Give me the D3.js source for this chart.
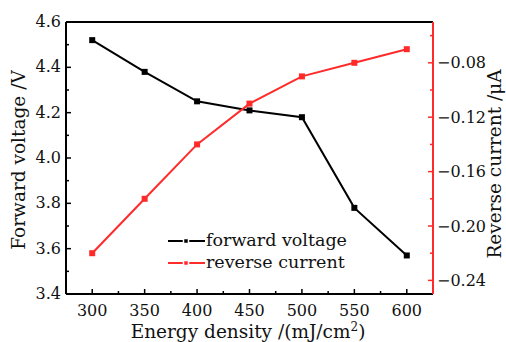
<!DOCTYPE html>
<html><head><meta charset="utf-8">
<script src="https://cdn.jsdelivr.net/npm/d3@7"></script>
<style>body{margin:0;background:#fff}svg{display:block}text{font-family:"DejaVu Serif",serif;fill:#111}</style>
</head><body><svg id="c" width="506" height="342"></svg>
<script>
const energy = [300, 350, 400, 450, 500, 550, 600];
const forwardVoltage = [4.52, 4.38, 4.25, 4.21, 4.18, 3.78, 3.57];
const reverseCurrent = [-0.22, -0.18, -0.14, -0.11, -0.09, -0.08, -0.07];
const xTicks = [300, 350, 400, 450, 500, 550, 600];
const leftTicks = [3.4, 3.6, 3.8, 4.0, 4.2, 4.4, 4.6];
const rightTicks = [-0.24, -0.20, -0.16, -0.12, -0.08];

const svg = d3.select("#c");
const L = 66, R = 433, T = 22, B = 294;
const red = "#ff2a2a";
const x = d3.scaleLinear().domain([275, 625]).range([L, R]);
const yL = d3.scaleLinear().domain([3.4, 4.6]).range([B, T]);
const yR = d3.scaleLinear().domain([-0.25, -0.05]).range([B, T]);
const fs = 16, tfs = 18.5;

// ticks
const g = svg.append("g");
d3.range(275, 626, 25).forEach(v => {
  const major = xTicks.includes(v);
  g.append("line").attr("x1", x(v)).attr("x2", x(v)).attr("y1", B).attr("y2", B - (major ? 5 : 3)).attr("stroke", "#000").attr("stroke-width", 1.5);
});
d3.range(34, 47, 1).map(v => v / 10).forEach(v => {
  const major = Math.round(v * 10) % 2 === 0;
  g.append("line").attr("x1", L).attr("x2", L + (major ? 5 : 3)).attr("y1", yL(v)).attr("y2", yL(v)).attr("stroke", "#000").attr("stroke-width", 1.5);
});
d3.range(-25, -4, 1).filter(v => v % 2 === 0).map(v => v / 100).forEach(v => {
  const major = Math.round(v * 100) % 4 === 0;
  g.append("line").attr("x1", R).attr("x2", R - (major ? 5 : 3)).attr("y1", yR(v)).attr("y2", yR(v)).attr("stroke", red).attr("stroke-width", 1.5);
});

// frame
svg.append("line").attr("x1", L).attr("x2", R).attr("y1", T).attr("y2", T).attr("stroke", "#000").attr("stroke-width", 2);
svg.append("line").attr("x1", L).attr("x2", R).attr("y1", B).attr("y2", B).attr("stroke", "#000").attr("stroke-width", 2);
svg.append("line").attr("x1", L).attr("x2", L).attr("y1", T).attr("y2", B).attr("stroke", "#000").attr("stroke-width", 2);
svg.append("line").attr("x1", R).attr("x2", R).attr("y1", T).attr("y2", B).attr("stroke", red).attr("stroke-width", 2);

// tick labels
xTicks.forEach(v => svg.append("text").attr("x", x(v)).attr("y", 316).attr("text-anchor", "middle").attr("font-size", fs).text(v));
leftTicks.forEach(v => svg.append("text").attr("x", 61).attr("y", yL(v) + 5).attr("text-anchor", "end").attr("font-size", fs).text(v.toFixed(1)));
rightTicks.forEach(v => svg.append("text").attr("x", 437).attr("y", yR(v) + 5.5).attr("text-anchor", "start").attr("font-size", fs).text("\u2212" + Math.abs(v).toFixed(2)));

// titles
svg.append("text").attr("transform", "translate(25,160) rotate(-90)").attr("text-anchor", "middle").attr("font-size", tfs).text("Forward voltage /V");
svg.append("text").attr("transform", "translate(501,164) rotate(-90)").attr("text-anchor", "middle").attr("font-size", tfs).text("Reverse current /\u03bcA");
const xt = svg.append("text").attr("x", 248).attr("y", 338).attr("text-anchor", "middle").attr("font-size", tfs);
xt.append("tspan").text("Energy density /(mJ/cm");
xt.append("tspan").attr("font-size", 12).attr("dy", -7).text("2");
xt.append("tspan").attr("dy", 7).text(")");

// series
const line = (ys) => d3.line().x((d, i) => x(energy[i])).y(d => ys(d));
svg.append("path").datum(forwardVoltage).attr("d", line(yL)).attr("fill", "none").attr("stroke", "#000").attr("stroke-width", 2);
svg.append("path").datum(reverseCurrent).attr("d", line(yR)).attr("fill", "none").attr("stroke", red).attr("stroke-width", 2);
svg.selectAll(".fv").data(forwardVoltage).enter().append("rect").attr("x", (d, i) => x(energy[i]) - 3).attr("y", d => yL(d) - 3).attr("width", 6).attr("height", 6).attr("fill", "#000");
svg.selectAll(".rc").data(reverseCurrent).enter().append("rect").attr("x", (d, i) => x(energy[i]) - 3).attr("y", d => yR(d) - 3).attr("width", 6).attr("height", 6).attr("fill", red);

// legend
const leg = [["forward voltage", "#000", 241], ["reverse current", red, 263]];
leg.forEach(([t, c, y]) => {
  svg.append("line").attr("x1", 168).attr("x2", 205).attr("y1", y).attr("y2", y).attr("stroke", c).attr("stroke-width", 2);
  svg.append("rect").attr("x", 183.5).attr("y", y - 2.5).attr("width", 5).attr("height", 5).attr("fill", c).attr("stroke", "#fff").attr("stroke-width", 1.5);
  svg.append("text").attr("x", 206).attr("y", y + 5).attr("font-size", 17.5).text(t);
});
</script></body></html>
